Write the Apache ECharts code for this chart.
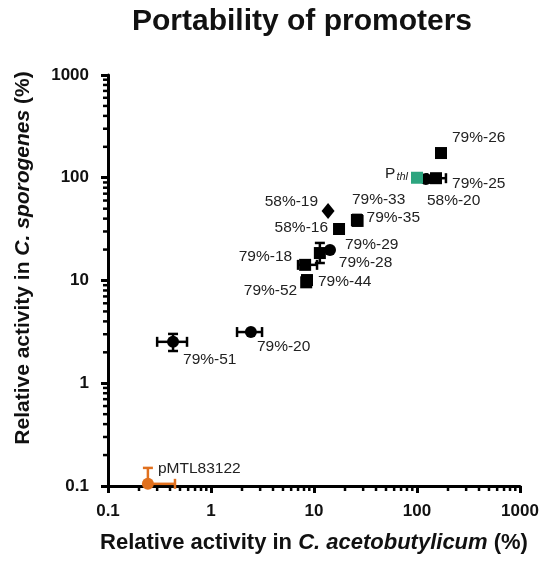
<!DOCTYPE html>
<html><head><meta charset="utf-8">
<script src="https://cdn.jsdelivr.net/npm/echarts@6/dist/echarts.min.js"></script>
<style>html,body{margin:0;padding:0;background:#fff}#c{width:545px;height:561px}</style>
</head><body><div id="c"></div>
<script>
// ---- data ----
const names    = ['pMTL83122','79%-51','79%-20','79%-52','79%-44','79%-18','79%-28','79%-29','58%-16','58%-19','79%-33','79%-35','58%-20','79%-25','79%-26','Pthl'];
const xValues  = [0.244, 0.428, 2.44, 8.4, 8.55, 8.2, 11.4, 14.3, 17.5, 13.7, 26.1, 26.5, 122, 153, 171, 100];
const yValues  = [0.105, 2.53, 3.15, 9.6, 10.1, 14.2, 18.5, 19.8, 31.7, 47.5, 38.8, 38.0, 97, 99, 174, 100];
const xErrLow  = [null, 0.30, 1.79, null, null, 7.0, null, null, 16.0, null, null, null, null, 125, 162, 92];
const xErrHigh = [0.447, 0.585, 3.13, null, null, 10.7, null, null, 19.2, null, null, null, null, 191, 181, 108];
const yErrLow  = [null, 2.06, null, null, 9.1, null, 14.8, null, 28.5, null, 34.5, null, null, null, 160, 93];
const yErrHigh = [0.15, 3.02, null, null, 11.1, null, 23.2, null, 35.0, null, 43.5, null, null, null, 189, 108];
const groups   = ['control','test','test','test','test','test','test','test','test','test','test','test','test','test','test','reference'];
const xTickLabels = ['0.1','1','10','100','1000'];
const yTickLabels = ['0.1','1','10','100','1000'];
const minorTicks = [0.2,0.3,0.4,0.5,0.6,0.7,0.8,0.9, 2,3,4,5,6,7,8,9, 20,30,40,50,60,70,80,90, 200,300,400,500,600,700,800,900];

// ---- styling ----
const groupColor = { control: '#E0701E', test: '#000000', reference: '#2DA57F' };
const symbolOf = { '58%-19': 'diamond', '79%-20': 'circle', '79%-51': 'circle', 'pMTL83122': 'circle', '79%-29': 'circle', '58%-20': 'circle' };
// label placement: [align, dx, dy]
const labelPlace = {
  'pMTL83122': ['left', 10, -15], '79%-51': ['left', 10, 18], '79%-20': ['left', 6, 15],
  '79%-52': ['right', -9, 8], '79%-44': ['left', 11, 2], '79%-18': ['right', -13, -8],
  '79%-28': ['left', 19, 10], '79%-29': ['left', 15, -5], '58%-16': ['right', -11, -1],
  '58%-19': ['right', -10, -9], '79%-33': ['left', -5, -20], '79%-35': ['left', 9, -3],
  '58%-20': ['left', 1, 22], '79%-25': ['left', 16, 6], '79%-26': ['left', 11, -15],
  'Pthl': ['right', -9, -4]
};
const FONT = '"Liberation Sans", Arial, Helvetica, sans-serif';

const scatterData = names.map((n, i) => {
  const lp = labelPlace[n];
  return {
    name: n,
    value: [xValues[i], yValues[i]],
    symbol: symbolOf[n] || 'rect',
    symbolSize: n === '58%-19' ? [13, 16] : 12,
    itemStyle: { color: groupColor[groups[i]], opacity: 1 },
    label: {
      show: true,
      position: 'inside',
      align: lp[0], verticalAlign: 'middle',
      offset: [lp[1], lp[2]],
      formatter: n === 'Pthl' ? '{p|P}{s|thl}' : n,
      color: '#222', fontSize: 15.5, fontFamily: FONT,
      rich: {
        p: { fontSize: 15.5, fontFamily: FONT, color: '#222' },
        s: { fontSize: 11, fontStyle: 'italic', fontFamily: FONT, color: '#222', padding: [6, 0, 0, 1] }
      }
    }
  };
});

function errRender(params, api) {
  const i = params.dataIndex;
  const col = groupColor[groups[i]];
  const c = api.coord([xValues[i], yValues[i]]);
  const cap = 5;
  const kids = [];
  const st = { stroke: col, lineWidth: 2.5 };
  if (xErrLow[i] != null) {
    const p = api.coord([xErrLow[i], yValues[i]]);
    kids.push({ type: 'line', shape: { x1: p[0], y1: c[1], x2: c[0], y2: c[1] }, style: st });
    kids.push({ type: 'line', shape: { x1: p[0], y1: c[1] - cap, x2: p[0], y2: c[1] + cap }, style: st });
  }
  if (xErrHigh[i] != null) {
    const p = api.coord([xErrHigh[i], yValues[i]]);
    kids.push({ type: 'line', shape: { x1: c[0], y1: c[1], x2: p[0], y2: c[1] }, style: st });
    kids.push({ type: 'line', shape: { x1: p[0], y1: c[1] - cap, x2: p[0], y2: c[1] + cap }, style: st });
  }
  if (yErrLow[i] != null) {
    const p = api.coord([xValues[i], yErrLow[i]]);
    kids.push({ type: 'line', shape: { x1: c[0], y1: c[1], x2: c[0], y2: p[1] }, style: st });
    kids.push({ type: 'line', shape: { x1: c[0] - cap, y1: p[1], x2: c[0] + cap, y2: p[1] }, style: st });
  }
  if (yErrHigh[i] != null) {
    const p = api.coord([xValues[i], yErrHigh[i]]);
    kids.push({ type: 'line', shape: { x1: c[0], y1: c[1], x2: c[0], y2: p[1] }, style: st });
    kids.push({ type: 'line', shape: { x1: c[0] - cap, y1: p[1], x2: c[0] + cap, y2: p[1] }, style: st });
  }
  return { type: 'group', children: kids };
}

const chart = echarts.init(document.getElementById('c'), null, { renderer: 'canvas' });
const axisCommon = {
  type: 'log', logBase: 10, min: 0.1, max: 1000,
  axisLine: { show: true, lineStyle: { color: '#000', width: 3 } },
  axisTick: { show: true, inside: false, length: 7, lineStyle: { color: '#000', width: 3 } },
  splitLine: { show: false },
  minorTick: { show: false },
  axisLabel: { color: '#111', fontSize: 17, fontWeight: 'bold', fontFamily: FONT }
};

chart.setOption({
  animation: false,
  backgroundColor: '#fff',
  title: {
    text: 'Portability of promoters',
    left: 297, top: 2, textAlign: 'center',
    textStyle: { fontSize: 30, fontWeight: 'bold', color: '#111', fontFamily: FONT }
  },
  grid: { left: 108, right: 25, top: 75, bottom: 75, containLabel: false },
  xAxis: Object.assign({}, axisCommon, {
    axisLabel: Object.assign({}, axisCommon.axisLabel, { margin: 17,
      formatter: v => { const k = Math.round(Math.log10(v)) + 1; return xTickLabels[k] || ''; } }),
    name: '{b|Relative activity in }{i|C. acetobutylicum}{b| (%)}',
    nameLocation: 'middle', nameGap: 46,
    nameTextStyle: {
      rich: {
        b: { fontSize: 22, fontWeight: 'bold', fontFamily: FONT, color: '#111' },
        i: { fontSize: 22, fontWeight: 'bold', fontStyle: 'italic', fontFamily: FONT, color: '#111' }
      }
    }
  }),
  yAxis: Object.assign({}, axisCommon, {
    axisLabel: Object.assign({}, axisCommon.axisLabel, { margin: 19,
      formatter: v => { const k = Math.round(Math.log10(v)) + 1; return yTickLabels[k] || ''; } })
  }),
  graphic: [{
    type: 'text', x: 23, y: 258, rotation: Math.PI / 2,
    style: {
      text: '{b|Relative activity in }{i|C. sporogenes}{b| (%)}',
      align: 'center', verticalAlign: 'middle',
      rich: {
        b: { fontSize: 21, fontWeight: 'bold', fontFamily: FONT, fill: '#111' },
        i: { fontSize: 21, fontWeight: 'bold', fontStyle: 'italic', fontFamily: FONT, fill: '#111' }
      }
    }
  }],
  series: [
    {
      type: 'custom', name: 'xMinor', clip: false, silent: true,
      data: minorTicks.map(v => [v, 0.1]),
      renderItem: (params, api) => {
        const p = api.coord([api.value(0), 0.1]);
        return { type: 'line', shape: { x1: p[0], y1: p[1], x2: p[0], y2: p[1] + 5 }, style: { stroke: '#000', lineWidth: 2.5 } };
      }
    },
    {
      type: 'custom', name: 'yMinor', clip: false, silent: true,
      data: minorTicks.map(v => [0.1, v]),
      renderItem: (params, api) => {
        const p = api.coord([0.1, api.value(1)]);
        return { type: 'line', shape: { x1: p[0], y1: p[1], x2: p[0] - 5, y2: p[1] }, style: { stroke: '#000', lineWidth: 2.5 } };
      }
    },
    {
      type: 'custom', name: 'errors', clip: false, silent: true,
      data: names.map((n, i) => [xValues[i], yValues[i]]),
      renderItem: errRender, z: 3
    },
    {
      type: 'scatter', name: 'points', z: 4, clip: false,
      itemStyle: { opacity: 1 },
      data: scatterData
    }
  ]
});
</script>
</body></html>
